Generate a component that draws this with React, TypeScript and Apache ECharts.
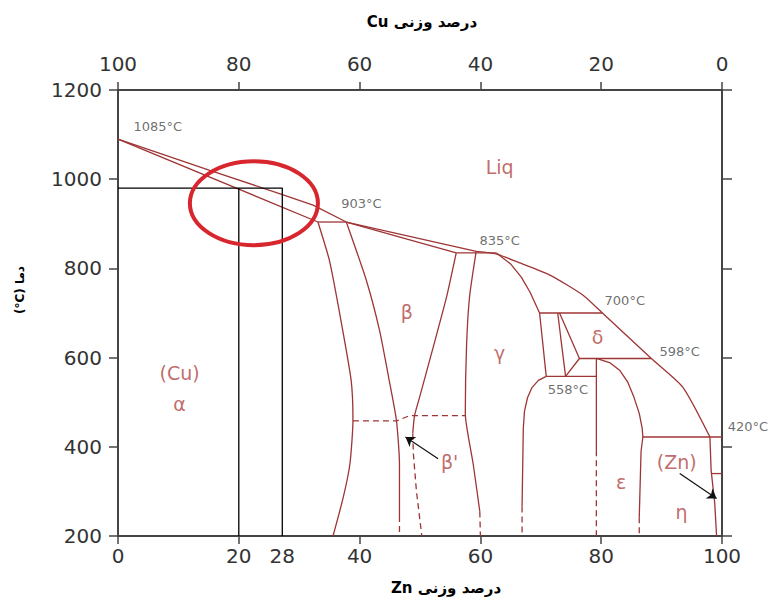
import React, { useEffect, useRef } from "react";
import * as echarts from "echarts";

// ---- Axis ticks / labels ----
const zincLabelValues = [0, 20, 27.2, 40, 60, 80, 100];
const zincLabelTexts = ["0", "20", "28", "40", "60", "80", "100"];

// ---- Phase boundaries: [wt% Zn, °C] ----
const alphaLiquidus = [[0, 1090], [15.2, 1020], [27.1, 966], [32.3, 942], [37.8, 904]];
const alphaSolidus = [[0, 1090], [33.1, 904]];
const peritectic903 = [[33.1, 904], [37.8, 904]];
const betaLiquidus = [[37.8, 904], [56.0, 835]];
const liquidusMiddle = [[37.8, 904], [59.3, 838]];
const liquidusArc = [[59.3, 838], [62.7, 832], [66.0, 815], [71.5, 785], [77.0, 740], [80.2, 700], [88.3, 598], [93.5, 534], [98.0, 422]];
const peritectic835 = [[56.0, 835], [62.7, 835]];
const alphaBetaLeft = [[33.1, 904], [35.0, 818], [36.7, 699], [38.6, 549], [38.9, 459], [38.4, 362], [37.3, 287], [35.6, 200]];
const alphaBetaRight = [[37.8, 904], [41.1, 774], [43.3, 661], [44.9, 549], [46.1, 459], [46.6, 362], [46.6, 245]];
const alphaBetaRightDash = [[46.6, 245], [46.6, 200]];
const betaGammaLeft = [[56.0, 835], [54.4, 736], [52.2, 624], [49.95, 512], [49.1, 470], [48.8, 430]];
const betaGammaLeftDash = [[48.8, 430], [48.9, 385], [49.4, 302], [50.3, 200]];
const gammaLeft = [[59.3, 838], [58.2, 736], [57.7, 624], [57.5, 474], [58.8, 362], [59.9, 255]];
const gammaLeftDash = [[59.9, 255], [60.0, 200]];
const betaOrdering = [[38.9, 458], [46.1, 458], [48.3, 470], [57.6, 470]];
const gammaRightUpper = [[62.7, 834], [65.0, 810], [66.8, 780], [68.2, 747], [69.8, 700]];
const gammaBoxLeft = [[69.8, 700], [70.9, 558]];
const gammaRightLower = [[70.9, 558], [69.6, 549], [68.5, 532], [67.8, 510], [67.3, 480], [67.1, 440], [66.9, 266]];
const gammaRightLowerDash = [[66.9, 266], [66.9, 200]];
const peritectic700 = [[69.8, 700], [80.2, 700]];
const deltaWedge = [[72.8, 700], [74.1, 558]];
const deltaLeft = [[73.1, 700], [76.4, 598], [74.1, 558]];
const peritectic598 = [[76.4, 598], [88.3, 598]];
const eutectoid558 = [[70.9, 558], [79.2, 558]];
const epsilonLeft = [[79.2, 598], [79.2, 392]];
const epsilonLeftDash = [[79.2, 392], [79.2, 200]];
const epsilonRight = [[79.2, 598], [81.5, 588], [83.1, 571], [84.4, 545], [85.4, 512], [86.3, 475], [86.8, 440], [86.9, 422], [86.6, 390], [86.3, 242]];
const epsilonRightDash = [[86.3, 242], [86.3, 200]];
const peritectic420 = [[86.9, 422], [100, 422]];
const etaBoundary = [[98.0, 422], [98.2, 347], [98.8, 273], [99.1, 200]];
const zincSolvusMark = [[98.3, 340], [100, 340]];

// ---- Black guide lines ----
const guideOuter = [[0, 980], [27.2, 980], [27.2, 200]];
const guideInner = [[20, 980], [20, 200]];
const betaPrimeArrow = [[53.0, 373], [47.6, 422]];
const zincArrow = [[93.0, 340], [99.1, 284]];

// ---- Highlight ellipse: [x, T, rx (wt%), ry (°C)] ----
const highlightEllipse = [[22.5, 946, 10.6, 94]];

// ---- Text labels ----
const phaseNames = ["Liq", "(Cu)", "α", "β", "γ", "δ", "β'", "ε", "(Zn)", "η"];
const phasePositions = [[63.2, 1027], [10.2, 565], [10.2, 497], [47.8, 702], [63.2, 610], [79.4, 646], [54.9, 365], [83.3, 320], [92.5, 365], [93.3, 253]];
const tempNames = ["1085°C", "903°C", "835°C", "700°C", "598°C", "558°C", "420°C"];
const tempPositions = [[6.6, 1119], [40.3, 945], [63.2, 863], [83.9, 727], [93.0, 614], [74.5, 529], [104.3, 446]];

const LINE = "#9e3535";
const FONT = "DejaVu Sans";

type Pt = number[];

function phaseLine(data: Pt[], dashed = false, smooth: number | boolean = false) {
  return {
    type: "line",
    data,
    symbol: "none",
    showSymbol: false,
    smooth,
    silent: true,
    clip: false,
    z: 3,
    lineStyle: { color: LINE, width: 1.3, type: dashed ? [6, 4] : "solid" },
  };
}

export default function App() {
  const ref = useRef<HTMLDivElement>(null);

  useEffect(() => {
    if (!ref.current) return;
    const chart = echarts.init(ref.current, null, { renderer: "svg" });

    const axisLineStyle = { color: "#444", width: 2 };
    const labelStyle = { fontSize: 20, color: "#333", fontFamily: FONT };

    const series: any[] = [
      phaseLine(alphaLiquidus),
      phaseLine(alphaSolidus),
      phaseLine(peritectic903),
      phaseLine(betaLiquidus),
      phaseLine(liquidusMiddle),
      phaseLine(liquidusArc, false, 0.2),
      phaseLine(peritectic835),
      phaseLine(alphaBetaLeft, false, 0.2),
      phaseLine(alphaBetaRight, false, 0.2),
      phaseLine(alphaBetaRightDash, true),
      phaseLine(betaGammaLeft, false, 0.2),
      phaseLine(betaGammaLeftDash, true),
      phaseLine(gammaLeft, false, 0.2),
      phaseLine(gammaLeftDash, true),
      phaseLine(betaOrdering, true),
      phaseLine(gammaRightUpper),
      phaseLine(gammaBoxLeft),
      phaseLine(gammaRightLower),
      phaseLine(gammaRightLowerDash, true),
      phaseLine(peritectic700),
      phaseLine(deltaWedge),
      phaseLine(deltaLeft),
      phaseLine(peritectic598),
      phaseLine(eutectoid558),
      phaseLine(epsilonLeft),
      phaseLine(epsilonLeftDash, true),
      phaseLine(epsilonRight),
      phaseLine(epsilonRightDash, true),
      phaseLine(peritectic420),
      phaseLine(etaBoundary),
      phaseLine(zincSolvusMark),
      {
        type: "line",
        data: guideOuter,
        symbol: "none",
        silent: true,
        z: 4,
        lineStyle: { color: "#000", width: 1.3 },
      },
      {
        type: "line",
        data: guideInner,
        symbol: "none",
        silent: true,
        z: 4,
        lineStyle: { color: "#000", width: 1.3 },
        markLine: {
          silent: true,
          symbol: ["none", "arrow"],
          symbolSize: 9,
          label: { show: false },
          lineStyle: { color: "#111", width: 1.2, type: "solid" },
          data: [
            [{ coord: betaPrimeArrow[0] }, { coord: betaPrimeArrow[1] }],
            [{ coord: zincArrow[0] }, { coord: zincArrow[1] }],
          ],
        },
      },
      {
        type: "scatter",
        data: phasePositions.map((p, i) => ({ value: p, name: phaseNames[i] })),
        symbolSize: 1,
        itemStyle: { color: "rgba(0,0,0,0)" },
        silent: true,
        z: 5,
        label: {
          show: true,
          position: "inside",
          formatter: (p: any) => p.name,
          fontSize: 19,
          color: "#b04545",
          fontFamily: FONT,
        },
      },
      {
        type: "scatter",
        data: tempPositions.map((p, i) => ({ value: p, name: tempNames[i] })),
        symbolSize: 1,
        itemStyle: { color: "rgba(0,0,0,0)" },
        silent: true,
        clip: false,
        z: 5,
        label: {
          show: true,
          position: "inside",
          formatter: (p: any) => p.name,
          fontSize: 13,
          color: "#4a4a4a",
          fontFamily: FONT,
        },
      },
      {
        type: "custom",
        data: highlightEllipse,
        encode: { x: 0, y: 1 },
        silent: true,
        clip: false,
        z: 10,
        renderItem: (params: any, api: any) => {
          const c = api.coord([api.value(0), api.value(1)]);
          const s = api.size([api.value(2), api.value(3)]);
          return {
            type: "ellipse",
            shape: { cx: c[0], cy: c[1], rx: s[0], ry: s[1] },
            style: { fill: "none", stroke: "#d8262e", lineWidth: 4 },
          };
        },
      },
    ];

    chart.setOption({
      animation: false,
      grid: { left: 118, right: 55, top: 90, bottom: 66, containLabel: false },
      xAxis: [
        {
          type: "value",
          position: "bottom",
          min: 0,
          max: 100,
          interval: 20,
          axisLine: { show: true, onZero: false, lineStyle: axisLineStyle },
          axisTick: { show: true, length: 8, lineStyle: { color: "#444", width: 1.5 } },
          axisLabel: {
            ...labelStyle,
            margin: 10,
            customValues: zincLabelValues,
            formatter: (v: number) => {
              const i = zincLabelValues.indexOf(v);
              return i >= 0 ? zincLabelTexts[i] : String(v);
            },
          },
          splitLine: { show: false },
        },
        {
          type: "value",
          position: "top",
          min: 0,
          max: 100,
          interval: 20,
          inverse: true,
          axisLine: { show: true, onZero: false, lineStyle: axisLineStyle },
          axisTick: { show: true, length: 8, lineStyle: { color: "#444", width: 1.5 } },
          axisLabel: { ...labelStyle, margin: 16, formatter: (v: number) => String(v) },
          splitLine: { show: false },
        },
      ],
      yAxis: [
        {
          type: "value",
          position: "left",
          min: 200,
          max: 1200,
          interval: 200,
          axisLine: { show: true, onZero: false, lineStyle: axisLineStyle },
          axisTick: { show: true, length: 9, lineStyle: { color: "#444", width: 1.5 } },
          axisLabel: { ...labelStyle, margin: 16, formatter: (v: number) => String(v) },
          splitLine: { show: false },
        },
        {
          type: "value",
          position: "right",
          min: 200,
          max: 1200,
          interval: 200,
          axisLine: { show: true, onZero: false, lineStyle: axisLineStyle },
          axisTick: { show: true, length: 10, lineStyle: { color: "#444", width: 1.5 } },
          axisLabel: { show: false },
          splitLine: { show: false },
        },
      ],
      graphic: [
        {
          type: "text",
          x: 422,
          y: 22,
          style: {
            text: "Cu درصد وزنی",
            fontSize: 15,
            fontWeight: "bold",
            fontFamily: FONT,
            fill: "#000",
            textAlign: "center",
            textVerticalAlign: "middle",
            align: "center",
            verticalAlign: "middle",
          },
        },
        {
          type: "text",
          x: 446,
          y: 588,
          style: {
            text: "Zn درصد وزنی",
            fontSize: 15,
            fontWeight: "bold",
            fontFamily: FONT,
            fill: "#000",
            textAlign: "center",
            textVerticalAlign: "middle",
            align: "center",
            verticalAlign: "middle",
          },
        },
        {
          type: "text",
          x: 20,
          y: 290,
          rotation: Math.PI / 2,
          style: {
            text: "(°C) دما",
            fontSize: 12,
            fontWeight: "bold",
            fontFamily: FONT,
            fill: "#000",
            textAlign: "center",
            textVerticalAlign: "middle",
            align: "center",
            verticalAlign: "middle",
          },
        },
      ],
      series,
    });

    return () => chart.dispose();
  }, []);

  return (
    <div
      ref={ref}
      style={{ position: "absolute", left: 0, top: 0, width: 777, height: 602, background: "#fff" }}
    />
  );
}
